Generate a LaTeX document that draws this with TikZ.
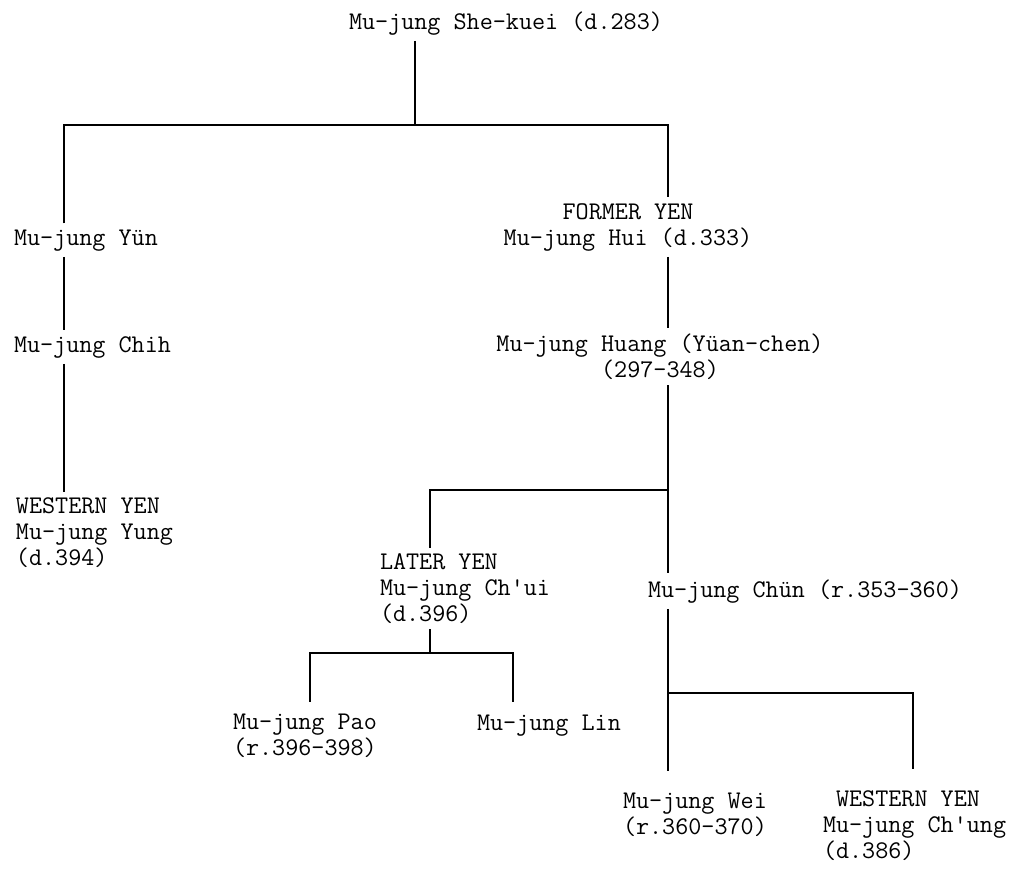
\documentclass[tikz,border=0pt]{standalone}
\usetikzlibrary{positioning}
\begin{document}
\begin{tikzpicture}[x=0.5pt, y=-0.5pt,
  person/.style={font=\ttfamily\fontsize{12.7}{12.9}\selectfont, inner sep=0pt, outer sep=3pt, align=left},
  link/.style={line width=1.2pt}]
  \useasboundingbox (0,0) rectangle (1013,869);
  % people (base = baseline of the last line)
  \node[person, anchor=base west] (top) at (343,29) {Mu-jung She-kuei (d.283)};
  \node[person, anchor=base west] (yun) at (8,245) {Mu-jung Yün};
  \node[person, anchor=base west] (chih) at (8,352) {Mu-jung Chih};
  \node[person, anchor=base west] (yung) at (10,565) {WESTERN YEN\\Mu-jung Yung\\(d.394)};
  \node[person, anchor=base, align=center] (hui) at (628,245) {FORMER YEN\\Mu-jung Hui (d.333)};
  \node[person, anchor=base, align=center] (huang) at (660,377) {Mu-jung Huang (Yüan-chen)\\(297-348)};
  \node[person, anchor=base west] (chui) at (374,621) {LATER YEN\\Mu-jung Ch'ui\\(d.396)};
  \node[person, anchor=base west] (chun) at (642,597) {Mu-jung Chün (r.353-360)};
  \node[person, anchor=base west] (pao) at (227,755) {Mu-jung Pao\\(r.396-398)};
  \node[person, anchor=base west] (lin) at (471,730) {Mu-jung Lin};
  \node[person, anchor=base west] (wei) at (617,834) {Mu-jung Wei\\(r.360-370)};
  \node[person, anchor=base west] (chung) at (817,858) {\hphantom{M}WESTERN YEN\\Mu-jung Ch'ung\\(d.386)};
  % columns and bars
  \coordinate (lx) at (64,0);
  \coordinate (rx) at (668,0);
  \coordinate (cx) at (430,0);
  \coordinate (px) at (310,0);
  \coordinate (nx) at (513,0);
  \coordinate (kx) at (913,0);
  \coordinate (bar) at (415,125);
  \coordinate (bar2) at (668,490);
  \coordinate (bar3) at (668,693);
  \coordinate (bar4) at (430,653);
  % lines
  \draw[link] (bar |- top.south) -- (bar);
  \draw[link] (yun.north -| lx) |- (bar) -| (hui.north -| rx);
  \draw[link] (yun.south -| lx) -- (chih.north -| lx);
  \draw[link] (chih.south -| lx) -- (yung.north -| lx);
  \draw[link] (hui.south -| rx) -- (huang.north -| rx);
  \draw[link] (huang.south -| rx) -- (chun.north -| rx);
  \draw[link] (chui.north -| cx) |- (bar2);
  \draw[link] (bar4 |- chui.south) -- (bar4);
  \draw[link, shorten <=3pt, shorten >=3pt] (pao.north -| px) |- (bar4) -| (lin.north -| nx);
  \draw[link, shorten >=8pt] (chun.south -| rx) -- (wei.north -| rx);
  \draw[link, shorten >=8pt] (bar3) -| (chung.north -| kx);
\end{tikzpicture}
\end{document}
